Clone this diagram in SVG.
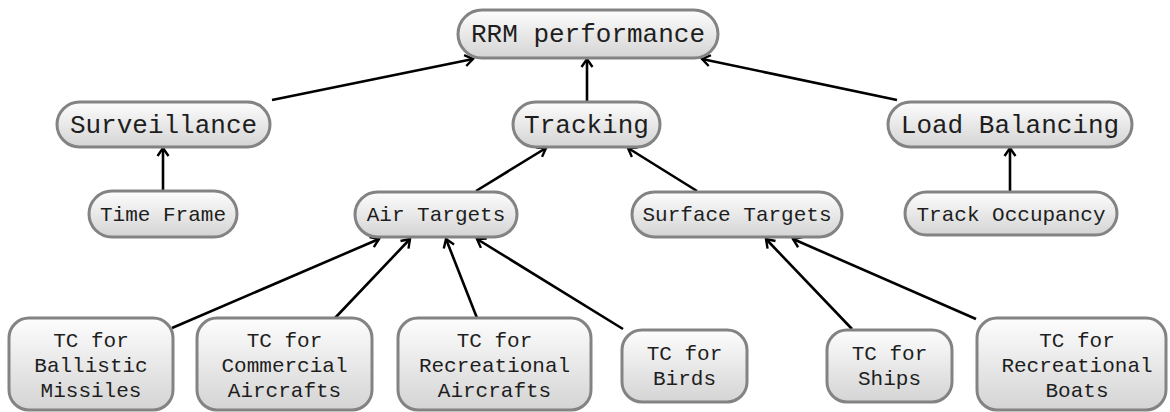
<svg xmlns="http://www.w3.org/2000/svg" width="1170" height="412" viewBox="0 0 1170 412">
<defs>
<linearGradient id="g" x1="0" y1="0" x2="0" y2="1">
<stop offset="0" stop-color="#fdfdfd"/>
<stop offset="1" stop-color="#d4d4d4"/>
</linearGradient>
<marker id="arr" markerUnits="userSpaceOnUse" markerWidth="20" markerHeight="20" viewBox="-12 -10 14 20" refX="0" refY="0" orient="auto">
<path d="M-8,-5.5 L0,0 L-8,5.5" fill="none" stroke="#000" stroke-width="2.4"/>
</marker>
</defs>
<style>
.n rect{fill:url(#g);stroke:#838383;stroke-width:3}
.n text{font-family:"Liberation Mono","Courier New",monospace;fill:#1e1e1e;text-anchor:middle}
.big text{font-size:26px}
.sm text{font-size:21px}
#connectors line{stroke:#000;stroke-width:2.6;marker-end:url(#arr)}
</style>
<rect width="1170" height="412" fill="#fff"/>
<g id="connectors">
<line x1="272" y1="100" x2="473" y2="59"/>
<line x1="587" y1="102" x2="587" y2="59"/>
<line x1="897" y1="100" x2="702" y2="59"/>
<line x1="163" y1="190" x2="163" y2="148"/>
<line x1="476" y1="191" x2="546" y2="148"/>
<line x1="697" y1="191" x2="628" y2="148"/>
<line x1="1010" y1="191" x2="1010" y2="148"/>
<line x1="172" y1="328" x2="379" y2="239"/>
<line x1="335" y1="318" x2="410" y2="239"/>
<line x1="477" y1="318" x2="446" y2="239"/>
<line x1="623" y1="329" x2="477" y2="239"/>
<line x1="852" y1="329" x2="766" y2="239"/>
<line x1="976" y1="319" x2="793" y2="239"/>
</g>
<g id="rrm" class="n big"><rect x="458" y="10" width="260" height="48" rx="24"/><text x="588" y="42">RRM performance</text></g>
<g id="surveillance" class="n big"><rect x="57" y="102" width="213" height="45" rx="22.5"/><text x="163.5" y="133">Surveillance</text></g>
<g id="tracking" class="n big"><rect x="513" y="102" width="147" height="45" rx="22.5"/><text x="586.5" y="133">Tracking</text></g>
<g id="load" class="n big"><rect x="888" y="102" width="244" height="45" rx="22.5"/><text x="1010" y="133">Load Balancing</text></g>
<g id="timeframe" class="n sm"><rect x="89" y="191" width="148" height="46" rx="23"/><text x="163" y="221">Time Frame</text></g>
<g id="air" class="n sm"><rect x="355" y="192" width="162" height="45" rx="22.5"/><text x="436" y="221">Air Targets</text></g>
<g id="surface" class="n sm"><rect x="632" y="192" width="210" height="45" rx="22.5"/><text x="737" y="221">Surface Targets</text></g>
<g id="occupancy" class="n sm"><rect x="905" y="192" width="212" height="43" rx="21.5"/><text x="1011" y="221">Track Occupancy</text></g>
<g id="ballistic" class="n sm"><rect x="9" y="318" width="164" height="92" rx="20"/><text x="91" y="347">TC for</text><text x="91" y="372">Ballistic</text><text x="91" y="397">Missiles</text></g>
<g id="commercial" class="n sm"><rect x="197" y="318" width="175" height="92" rx="20"/><text x="284.5" y="347">TC for</text><text x="284.5" y="372">Commercial</text><text x="284.5" y="397">Aircrafts</text></g>
<g id="recaircraft" class="n sm"><rect x="398" y="318" width="193" height="92" rx="20"/><text x="494.5" y="347">TC for</text><text x="494.5" y="372">Recreational</text><text x="494.5" y="397">Aircrafts</text></g>
<g id="birds" class="n sm"><rect x="622" y="330" width="125" height="72" rx="20"/><text x="684.5" y="360">TC for</text><text x="684.5" y="385">Birds</text></g>
<g id="ships" class="n sm"><rect x="827" y="330" width="125" height="72" rx="20"/><text x="889.5" y="360">TC for</text><text x="889.5" y="385">Ships</text></g>
<g id="recboats" class="n sm"><rect x="977" y="318" width="189" height="92" rx="20"/><text x="1077" y="347">TC for</text><text x="1077" y="372">Recreational</text><text x="1077" y="397">Boats</text></g>
</svg>
